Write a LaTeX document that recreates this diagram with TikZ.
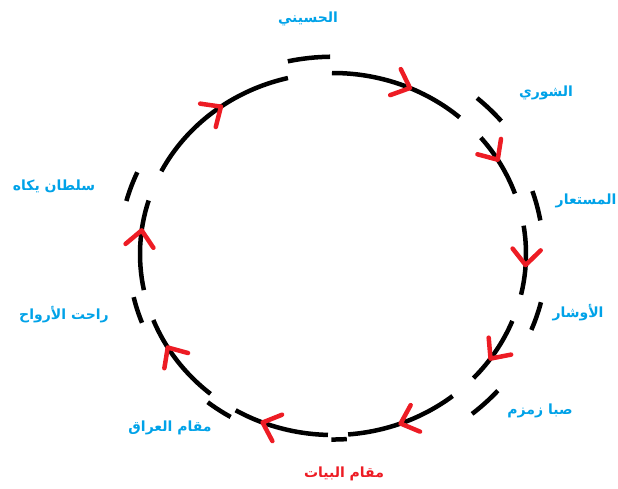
\documentclass[tikz,border=0pt]{standalone}
\usepackage{fontspec}
\newfontfamily\arabicfont[Script=Arabic]{DejaVu Sans}
\TeXXeTstate=1
\definecolor{maqblue}{RGB}{0,162,232}
\definecolor{maqred}{RGB}{237,28,36}

\begin{document}
\begin{tikzpicture}[x=1pt,y=1pt,
  ring/.style={line width=4.5pt,black},
  tick/.style={line width=4.5pt,black},
  tip/.style={line width=4.5pt,maqred,line cap=round,line join=round},
  lbl/.style={font=\arabicfont\bfseries\fontsize{14}{16}\selectfont,text=maqblue,inner sep=1pt}]
\useasboundingbox (0,0) rectangle (618,488);
\coordinate (o) at (333,234);
% main arcs between the maqamat
\foreach \a/\b in {90.3/49,40/19.5,9/-13,-21.7/-43.3,-51.7/-85.5,-91.5/-120.3,-129.4/-158.6,191.5/162.8,152.8/103.5}{
  \pgfmathsetmacro\sx{333+193*cos(\a)}
  \pgfmathsetmacro\sy{234+181*sin(\a)}
  \draw[ring] (\sx,\sy) arc[start angle=\a,end angle=\b,x radius=193,y radius=181];
}
% short pieces pushed out at each gap
\foreach \a/\b/\r in {102.4/90.8/1.09,49.1/40.1/1.14,18.6/9.8/1.09,-13.9/-22.2/1.11,-41.5/-50.8/1.14,-86/-90.5/1.025,-120.5/-128.4/1.045,-159/-167/1.06,164.7/156/1.11}{
  \pgfmathsetmacro\rx{193*\r}
  \pgfmathsetmacro\ry{181*\r}
  \pgfmathsetmacro\sx{333+\rx*cos(\a)}
  \pgfmathsetmacro\sy{234+\ry*sin(\a)}
  \draw[tick] (\sx,\sy) arc[start angle=\a,end angle=\b,x radius=\rx,y radius=\ry];
}
% red heads, clockwise
\foreach \t in {66.5,31.4,-3.5,-35.3,-69.5,-111.4,-148.9,172.5,125.5}{
  \pgfmathsetmacro\ax{333+193*cos(\t)}
  \pgfmathsetmacro\ay{234+181*sin(\t)}
  \pgfmathsetmacro\dir{atan2(-181*cos(\t),193*sin(\t))}
  \draw[tip] (\ax,\ay) ++({\dir+138}:21) -- (\ax,\ay) -- ++({\dir+222}:21);
}
% labels
\node[lbl] (husayni) at (308,469) {\beginR الحسيني\endR};
\node[lbl] (shuri) at (546,395) {\beginR الشوري\endR};
\node[lbl] (mustaar) at (586,287) {\beginR المستعار\endR};
\node[lbl] (awshar) at (578,175) {\beginR الأوشار\endR};
\node[lbl] (saba) at (540,77) {\beginR صبا زمزم\endR};
\node[lbl,text=maqred] (bayat) at (344,14) {\beginR مقام البيات\endR};
\node[lbl] (iraq) at (170,60) {\beginR مقام العراق\endR};
\node[lbl] (rahat) at (64,173) {\beginR راحت الأرواح\endR};
\node[lbl] (sultan) at (54,302) {\beginR سلطان يكاه\endR};
\end{tikzpicture}
\end{document}
